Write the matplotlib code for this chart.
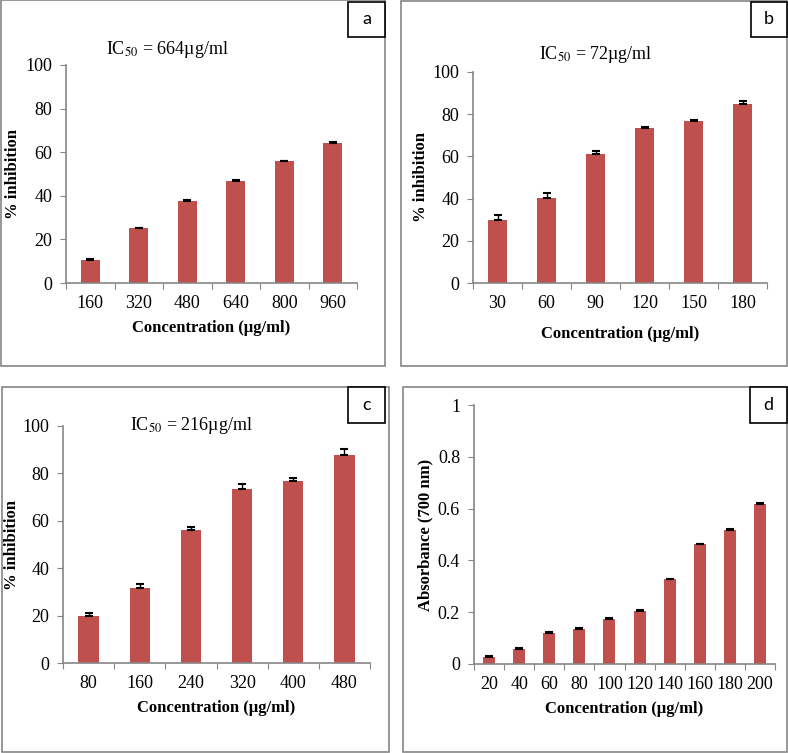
import matplotlib
matplotlib.use("Agg")
import matplotlib.pyplot as plt
from matplotlib.patches import Rectangle
import numpy as np

plt.rcParams["font.family"] = ["Liberation Serif", "DejaVu Serif"]
plt.rcParams["mathtext.fontset"] = "stix"

# ---- data ----
conc_a = ["160", "320", "480", "640", "800", "960"]
inhib_a = [10.5, 25.0, 37.8, 47.0, 55.8, 64.3]
err_a = [0.3, 0.3, 0.3, 0.3, 0.2, 0.2]

conc_b = ["30", "60", "90", "120", "150", "180"]
inhib_b = [30.0, 40.5, 61.0, 73.5, 77.0, 84.8]
err_b = [2.3, 2.0, 1.5, 0.3, 0.2, 1.5]

conc_c = ["80", "160", "240", "320", "400", "480"]
inhib_c = [19.9, 31.8, 56.0, 73.3, 76.8, 87.8]
err_c = [1.3, 1.7, 1.4, 2.4, 1.1, 2.4]

conc_d = ["20", "40", "60", "80", "100", "120", "140", "160", "180", "200"]
absorb_d = [0.027, 0.058, 0.120, 0.136, 0.174, 0.206, 0.327, 0.463, 0.518, 0.618]
err_d = [0.002, 0.002, 0.002, 0.002, 0.003, 0.002, 0.002, 0.002, 0.002, 0.002]

W, H = 788, 753
BAR = "#C0504D"
GRAY = "#868686"

fig = plt.figure(figsize=(W / 100, H / 100), dpi=100)


def px_rect(x0, y0, x1, y1):
    # pixel box (top-left origin) -> figure fraction [l, b, w, h]
    return [x0 / W, 1 - y1 / H, (x1 - x0) / W, (y1 - y0) / H]


def frame(x0, y0, x1, y1, color=GRAY, lw=1.2):
    l, b, w, h = px_rect(x0, y0, x1, y1)
    fig.patches.append(Rectangle((l, b), w, h, transform=fig.transFigure,
                                 fill=False, edgecolor=color, lw=lw, zorder=-1))


def tag(x0, y0, x1, y1, letter):
    l, b, w, h = px_rect(x0, y0, x1, y1)
    fig.patches.append(Rectangle((l, b), w, h, transform=fig.transFigure,
                                 facecolor="white", edgecolor="black", lw=1.2, zorder=5))
    fig.text(l + w / 2, b + h / 2, letter, ha="center", va="center",
             family="Lato", fontsize=13, zorder=6)


def panel(box, cats, vals, errs, ylim, yticks, ylabels, ylabel, title=None, tpos=None,
          ylab_px=52, xlab_px=45):
    ax = fig.add_axes(px_rect(*box))
    n = len(cats)
    x = np.arange(n)
    ax.bar(x, vals, width=0.4, color=BAR, zorder=2,
           yerr=[np.zeros(n), errs], ecolor="black",
           error_kw=dict(capsize=3, elinewidth=1, capthick=1.5))
    ax.set_xlim(-0.5, n - 0.5)
    ax.set_ylim(*ylim)
    # category boundaries carry the tick marks, centres carry the labels
    ax.set_xticks(np.arange(n + 1) - 0.5)
    ax.set_xticklabels([])
    ax.set_xticks(x, minor=True)
    ax.set_xticklabels(cats, minor=True, va="center")
    ax.tick_params(axis="x", which="major", length=4, color=GRAY, direction="out")
    ax.tick_params(axis="x", which="minor", length=0, pad=14.5, labelsize=13)
    ax.set_yticks(yticks)
    ax.set_yticklabels(ylabels)
    ax.tick_params(axis="y", length=4, color=GRAY, pad=6, labelsize=13)
    for s in ("top", "right"):
        ax.spines[s].set_visible(False)
    for s in ("left", "bottom"):
        ax.spines[s].set_color(GRAY)
        ax.spines[s].set_linewidth(1.2)
    ax.patch.set_visible(False)
    wpx = box[2] - box[0]
    hpx = box[3] - box[1]
    ax.set_xlabel("Concentration (µg/ml)", fontsize=12, fontweight="bold", va="center")
    ax.xaxis.set_label_coords(0.5, -xlab_px / hpx)
    ax.set_ylabel(ylabel, fontsize=12, fontweight="bold", va="center")
    ax.yaxis.set_label_coords(-ylab_px / wpx, 0.5)
    if title:
        ax.text(tpos[0], tpos[1], title, transform=ax.transAxes,
                ha="center", va="center", fontsize=13)
    return ax


# panel frames
frame(1, 0, 385, 366)
frame(401, 1, 787, 366)
frame(2, 387, 389, 752)
frame(403, 387, 787, 752)

pct = [0, 20, 40, 60, 80, 100]
pct_lab = [str(v) for v in pct]

panel((66, 65, 357, 283), conc_a, inhib_a, err_a, (0, 100), pct, pct_lab,
      "% inhibition", r"IC$_{50}$ = 664µg/ml", (0.347, 1.073),
      ylab_px=53, xlab_px=44.5)
panel((473, 72, 767, 283), conc_b, inhib_b, err_b, (0, 100), pct, pct_lab,
      "% inhibition", r"IC$_{50}$ = 72µg/ml", (0.418, 1.081),
      ylab_px=52, xlab_px=50.5)
panel((63, 426, 370, 663), conc_c, inhib_c, err_c, (0, 100), pct, pct_lab,
      "% inhibition", r"IC$_{50}$ = 216µg/ml", (0.417, 1.0),
      ylab_px=51, xlab_px=44.5)
panel((474, 405, 775, 664), conc_d, absorb_d, err_d, (0, 1),
      [0, 0.2, 0.4, 0.6, 0.8, 1.0], ["0", "0.2", "0.4", "0.6", "0.8", "1"],
      "Absorbance (700 nm)", ylab_px=48.5, xlab_px=45)

tag(348, 2, 385, 37, "a")
tag(751, 2, 787, 37, "b")
tag(348, 387, 385, 423, "c")
tag(750, 387, 787, 423, "d")

fig.savefig("out.png", dpi=100)
